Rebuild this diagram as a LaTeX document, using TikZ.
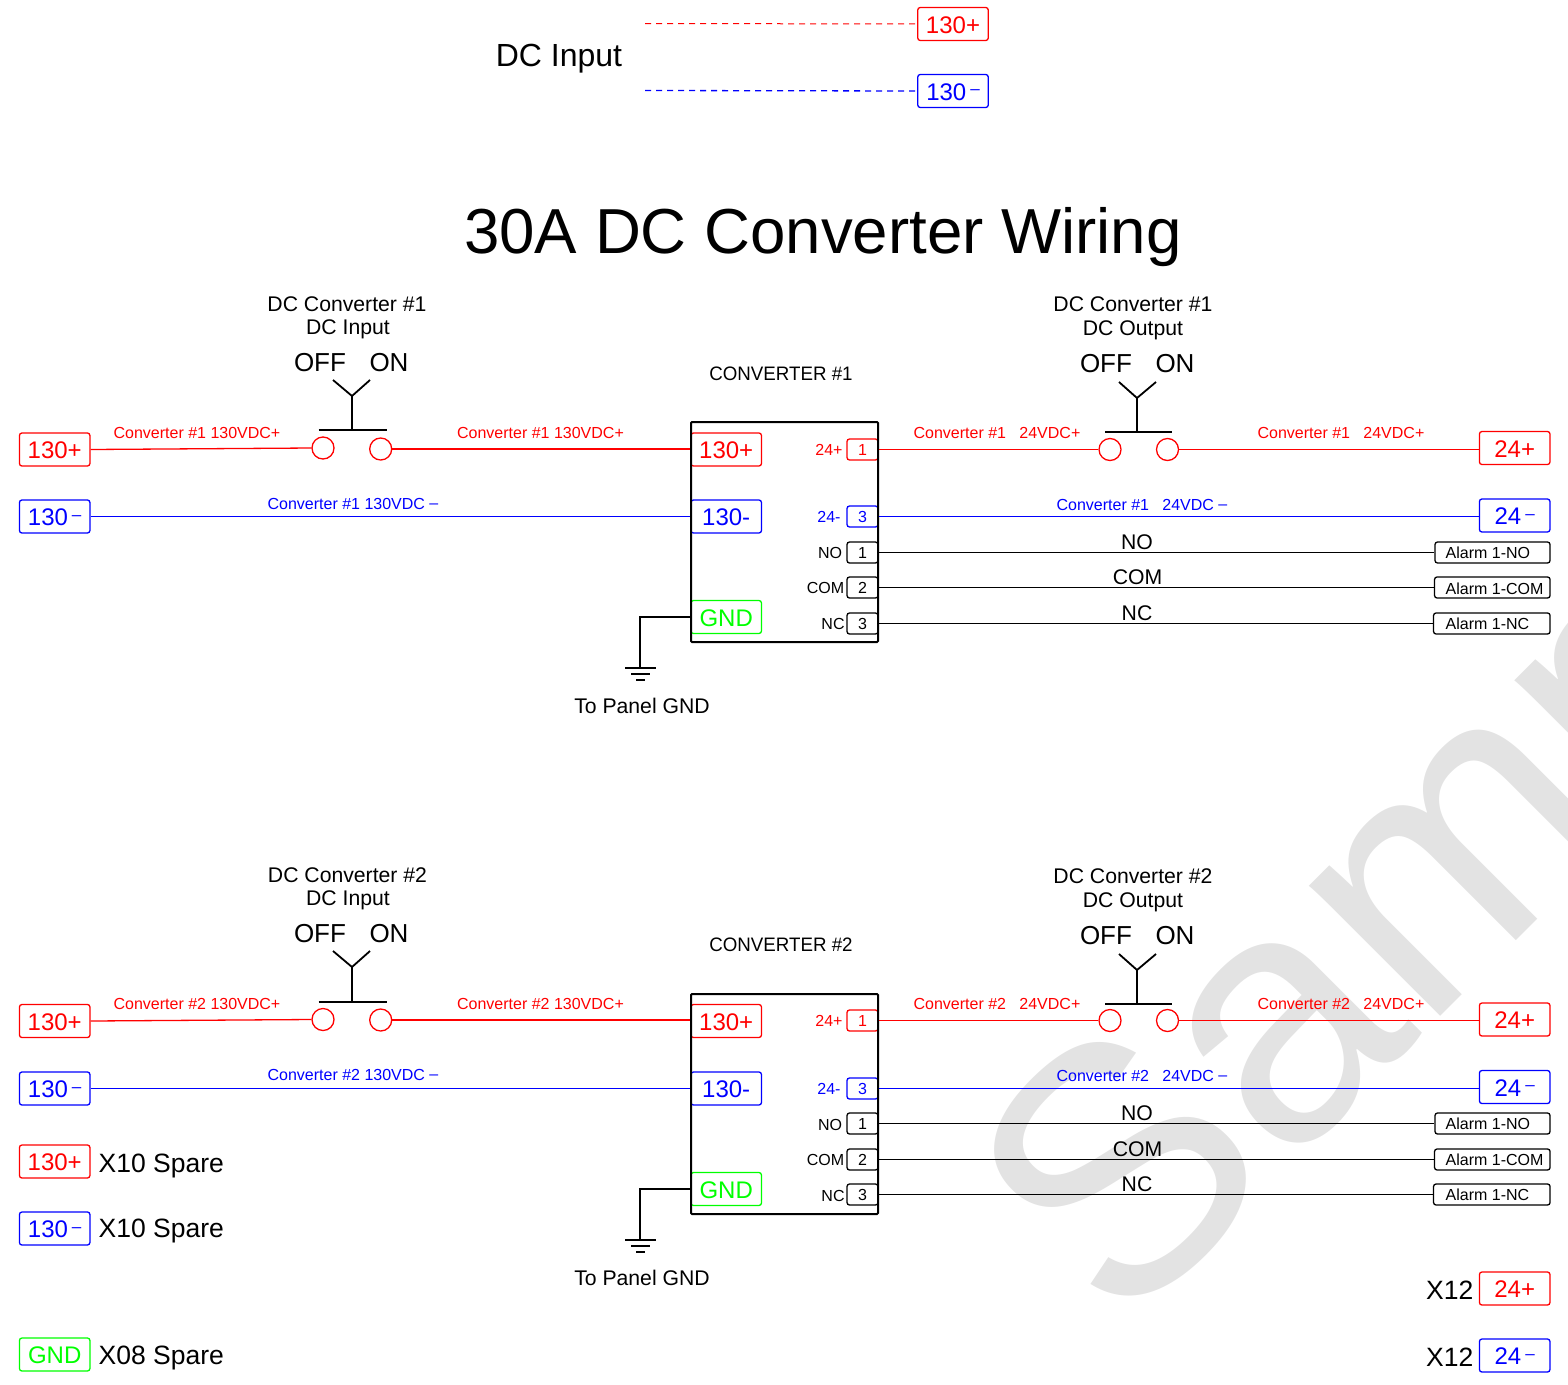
\documentclass[tikz,border=0pt]{standalone}
\usepackage{fontspec}
\setmainfont{Liberation Sans}
\definecolor{wmgrey}{HTML}{E3E3E3}
\newcommand{\fsz}[1]{\fontsize{#1}{#1}\selectfont}
\newcommand{\smallminus}{\raisebox{5.5pt}{\fsz{17}--}}
\newcommand{\wireminus}{\raisebox{1pt}{--}}
\begin{document}
\begin{tikzpicture}[x=1pt,y=-1pt,line width=1.3pt,%
% terminal boxes:
term/.style = {draw, rounded corners=2.5pt, minimum width=70.5pt, minimum height=33pt,
            inner sep=0, font=\fsz{24}, text height=18pt, text depth=0pt},
% pins on the right side of the converter:
pinbox/.style = {draw, rounded corners=2.5pt, minimum width=31pt, minimum height=21pt,
            inner sep=0, font=\fsz{16}},
% alarm terminals:
alarm/.style = {draw, rounded corners=2.5pt, minimum height=21pt, inner sep=0,
            font=\fsz{16}},
% switch contacts:
contact/.style = {circle, draw=red, minimum size=22pt, inner sep=0},
wirelbl/.style = {anchor=base, inner sep=0, font=\fsz{16}},
pinlbl/.style = {anchor=base, inner sep=0, font=\fsz{16}},
lbl/.style = {anchor=base, inner sep=0, font=\fsz{21.2}},
swlbl/.style = {anchor=base, inner sep=0, font=\fsz{26}},
sparelbl/.style = {inner sep=0, font=\fsz{26.5}},
swline/.style = {line width=1.8pt},
plusw/.style = {red},
minusw/.style = {blue},
gndw/.style = {green}]
\useasboundingbox (0,0) rectangle (1568,1384);
% watermark
\begin{scope}
\clip (0,0) rectangle (1568,1384);
\node[anchor=base west,inner sep=0,rotate=45,text=wmgrey,font=\fsz{350}] (WM) at (1120,1337) {Sample};
\end{scope}
% DC input
\node[anchor=base,inner sep=0,font=\fsz{32}] (IN) at (559,66) {DC Input};
\node[term,plusw] (INp) at (953,24) {130+};
\node[term,minusw] (INn) at (953,91) {130\,\smallminus};
\coordinate (INpa) at (645,23.5);
\coordinate (INna) at (645,90.5);
\draw[red,dash pattern=on 6pt off 5pt,line width=1pt] (INpa) to (INp.west);
\draw[blue,dash pattern=on 6pt off 5pt,line width=1.3pt] (INna) to (INn.west);
\node[anchor=base,inner sep=0,font=\fsz{63.6}] (TT) at (823,253) {30A DC Converter Wiring};
% converter 1
\node[lbl] (A1a) at (347,311) {DC Converter \#1};
\node[lbl] (A1b) at (348,334) {DC Input};
\node[swlbl] (A1c) at (320,371) {OFF};
\node[swlbl] (A1d) at (389,371) {ON};
\node[lbl] (B1a) at (1133,311) {DC Converter \#1};
\node[lbl] (B1b) at (1133,335) {DC Output};
\node[swlbl] (B1c) at (1106,372) {OFF};
\node[swlbl] (B1d) at (1175,372) {ON};
\node[anchor=base,inner sep=0,font=\fsz{19.5}] (C1t) at (781,380) {\scalebox{.96}[1]{CONVERTER \#1}};
\node[term,plusw] (T1p) at (54.7,449.5) {130+};
\node[term,minusw] (T1n) at (54.7,516.5) {130\,\smallminus};
\node[contact] (A1on) at (323,448) {};
\node[contact] (A1off) at (380.7,449) {};
\node[contact] (B1on) at (1110,449.5) {};
\node[contact] (B1off) at (1167.5,449.5) {};
\node[wirelbl,plusw] (L1a) at (197,438) {Converter \#1 130VDC+};
\node[wirelbl,plusw] (L1b) at (540.5,438) {Converter \#1 130VDC+};
\node[wirelbl,minusw] (L1c) at (353,509) {Converter \#1 130VDC \wireminus};
\node[wirelbl,plusw] (L1d) at (997,438) {Converter \#1\ \ \ 24VDC+};
\node[wirelbl,plusw] (L1e) at (1341,438) {Converter \#1\ \ \ 24VDC+};
\node[wirelbl,minusw] (L1f) at (1142,510) {Converter \#1\ \ \ 24VDC \wireminus};
\node[term,plusw] (I1p) at (726.2,449.5) {130+};
\node[term,minusw] (I1n) at (726.2,516.5) {130-\hspace{5pt}};
\node[term,gndw] (I1g) at (726.2,617) {GND};
\node[pinbox,plusw] (P1a) at (862.5,449.5) {1};
\node[pinbox,minusw] (P1b) at (862.5,516.5) {3};
\node[pinbox] (P1c) at (862.5,552.5) {1};
\node[pinbox] (P1d) at (862.5,587.5) {2};
\node[pinbox] (P1e) at (862.5,623.5) {3};
\node[pinlbl,plusw] at (829,455) (Q1a) {24+};
\node[pinlbl,minusw] at (829,522) (Q1b) {24-};
\node[pinlbl] at (830,558) (Q1c) {NO};
\node[pinlbl] at (825.5,593.5) (Q1d) {COM};
\node[pinlbl] at (833,629) (Q1e) {NC};
\node[draw,line width=2pt,rounded corners=1pt,minimum width=187pt,minimum height=220pt,inner sep=0] (C1) at (784.5,532) {};
\node[term,plusw] (O1p) at (1514.7,448) {24+};
\node[term,minusw] (O1n) at (1514.7,515.5) {24\,\smallminus};
\node[alarm,minimum width=115pt] (R1a) at (1492.5,552.5) {};
\node[alarm,minimum width=115.5pt] (R1b) at (1492.3,587.5) {};
\node[alarm,minimum width=116.5pt] (R1c) at (1491.8,623.5) {};
\node[pinlbl,anchor=base west] (R1at) at (1445,558) {Alarm 1-NO};
\node[pinlbl,anchor=base west] (R1bt) at (1445,594) {Alarm 1-COM};
\node[pinlbl,anchor=base west] (R1ct) at (1445,629) {Alarm 1-NC};
\node[lbl] (W1a) at (1137,549) {NO};
\node[lbl] (W1b) at (1137.5,584) {COM};
\node[lbl] (W1c) at (1137,620) {NC};
\draw[red] (T1p.east) to (A1on.west);
\draw[red,line width=1.8pt] (A1off.east) to (I1p.west |- A1off.east);
\draw[blue] (T1n.east) to (I1n.west);
\draw[red] (P1a.east) to (B1on.west);
\draw[red] (B1off.east) to (O1p.west |- B1off.east);
\draw[blue] (P1b.east) to (O1n.west |- P1b.east);
\draw (P1c.east) to (R1a.west);
\draw (P1d.east) to (R1b.west);
\draw (P1e.east) to (R1c.west);
\coordinate (A1s) at (352,430);
\draw[swline] (318.5,430) to (387,430);
\draw[swline] (A1s) to (352,396) to (333,380);
\draw[swline] (352,396) to (370,380);
\coordinate (B1s) at (1137,432);
\draw[swline] (1105,432) to (1172,432);
\draw[swline] (B1s) to (1137,398) to (1119,382);
\draw[swline] (1137,398) to (1156,382);
\coordinate (G1) at (640,668);
\draw[swline] (I1g.west) to (G1 |- I1g.west) to (G1);
\draw[swline] (625,668) to (656,668);
\draw[swline] (631,674) to (650,674);
\draw[swline] (636,680) to (645,680);
\node[lbl] (G1t) at (642,713) {To Panel GND};
% converter 2
\node[lbl] (A2a) at (347.5,882) {DC Converter \#2};
\node[lbl] (A2b) at (348,905) {DC Input};
\node[swlbl] (A2c) at (320,942) {OFF};
\node[swlbl] (A2d) at (389,942) {ON};
\node[lbl] (B2a) at (1133,883) {DC Converter \#2};
\node[lbl] (B2b) at (1133,907) {DC Output};
\node[swlbl] (B2c) at (1106,944) {OFF};
\node[swlbl] (B2d) at (1175,944) {ON};
\node[anchor=base,inner sep=0,font=\fsz{19.5}] (C2t) at (781,951) {\scalebox{.96}[1]{CONVERTER \#2}};
\node[term,plusw] (T2p) at (54.7,1021) {130+};
\node[term,minusw] (T2n) at (54.7,1088.5) {130\,\smallminus};
\node[contact] (A2on) at (323,1019.5) {};
\node[contact] (A2off) at (380.7,1020) {};
\node[contact] (B2on) at (1110,1020.5) {};
\node[contact] (B2off) at (1167.5,1020.5) {};
\node[wirelbl,plusw] (L2a) at (197,1009) {Converter \#2 130VDC+};
\node[wirelbl,plusw] (L2b) at (540.5,1009) {Converter \#2 130VDC+};
\node[wirelbl,minusw] (L2c) at (353,1080) {Converter \#2 130VDC \wireminus};
\node[wirelbl,plusw] (L2d) at (997,1009) {Converter \#2\ \ \ 24VDC+};
\node[wirelbl,plusw] (L2e) at (1341,1009) {Converter \#2\ \ \ 24VDC+};
\node[wirelbl,minusw] (L2f) at (1142,1081) {Converter \#2\ \ \ 24VDC \wireminus};
\node[term,plusw] (I2p) at (726.2,1021) {130+};
\node[term,minusw] (I2n) at (726.2,1088.5) {130-\hspace{5pt}};
\node[term,gndw] (I2g) at (726.2,1189) {GND};
\node[pinbox,plusw] (P2a) at (862.5,1020.5) {1};
\node[pinbox,minusw] (P2b) at (862.5,1088.5) {3};
\node[pinbox] (P2c) at (862.5,1123.5) {1};
\node[pinbox] (P2d) at (862.5,1159.5) {2};
\node[pinbox] (P2e) at (862.5,1194.5) {3};
\node[pinlbl,plusw] at (829,1026) (Q2a) {24+};
\node[pinlbl,minusw] at (829,1094) (Q2b) {24-};
\node[pinlbl] at (830,1130) (Q2c) {NO};
\node[pinlbl] at (825.5,1165) (Q2d) {COM};
\node[pinlbl] at (833,1201) (Q2e) {NC};
\node[draw,line width=2pt,rounded corners=1pt,minimum width=187pt,minimum height=220pt,inner sep=0] (C2) at (784.5,1104) {};
\node[term,plusw] (O2p) at (1514.7,1019.5) {24+};
\node[term,minusw] (O2n) at (1514.7,1087) {24\,\smallminus};
\node[alarm,minimum width=115pt] (R2a) at (1492.5,1123.5) {};
\node[alarm,minimum width=115.5pt] (R2b) at (1492.3,1159.5) {};
\node[alarm,minimum width=116.5pt] (R2c) at (1491.8,1194.5) {};
\node[pinlbl,anchor=base west] (R2at) at (1445,1129.5) {Alarm 1-NO};
\node[pinlbl,anchor=base west] (R2bt) at (1445,1165) {Alarm 1-COM};
\node[pinlbl,anchor=base west] (R2ct) at (1445,1200.5) {Alarm 1-NC};
\node[lbl] (W2a) at (1137,1120) {NO};
\node[lbl] (W2b) at (1137.5,1156) {COM};
\node[lbl] (W2c) at (1137,1191) {NC};
\draw[red] (T2p.east) to (A2on.west);
\draw[red,line width=1.8pt] (A2off.east) to (I2p.west |- A2off.east);
\draw[blue] (T2n.east) to (I2n.west);
\draw[red] (P2a.east) to (B2on.west);
\draw[red] (B2off.east) to (O2p.west |- B2off.east);
\draw[blue] (P2b.east) to (O2n.west |- P2b.east);
\draw (P2c.east) to (R2a.west);
\draw (P2d.east) to (R2b.west);
\draw (P2e.east) to (R2c.west);
\coordinate (A2s) at (352,1002);
\draw[swline] (318.5,1002) to (387,1002);
\draw[swline] (A2s) to (352,967) to (333,951);
\draw[swline] (352,967) to (370,951);
\coordinate (B2s) at (1137,1004);
\draw[swline] (1105,1004) to (1172,1004);
\draw[swline] (B2s) to (1137,970) to (1119,954);
\draw[swline] (1137,970) to (1156,954);
\coordinate (G2) at (640,1240);
\draw[swline] (I2g.west) to (G2 |- I2g.west) to (G2);
\draw[swline] (625,1240) to (656,1240);
\draw[swline] (631,1246) to (650,1246);
\draw[swline] (636,1252) to (645,1252);
\node[lbl] (G2t) at (642,1285) {To Panel GND};
% spares
\node[term,plusw] (S1) at (54.7,1161.5) {130+};
\node[term,minusw] (S2) at (54.7,1228.5) {130\,\smallminus};
\node[term,gndw] (S3) at (54.7,1354.5) {GND};
\node[term,plusw] (S4) at (1514.7,1288.5) {24+};
\node[term,minusw] (S5) at (1514.7,1355.5) {24\,\smallminus};
\node[sparelbl,anchor=base west] (X1) at (98,1172) {X10 Spare};
\node[sparelbl,anchor=base west] (X2) at (98,1237) {X10 Spare};
\node[sparelbl,anchor=base west] (X3) at (98,1364) {X08 Spare};
\node[sparelbl,anchor=base east] (X4) at (1474,1299) {X12};
\node[sparelbl,anchor=base east] (X5) at (1474,1366) {X12};
\end{tikzpicture}
\end{document}
